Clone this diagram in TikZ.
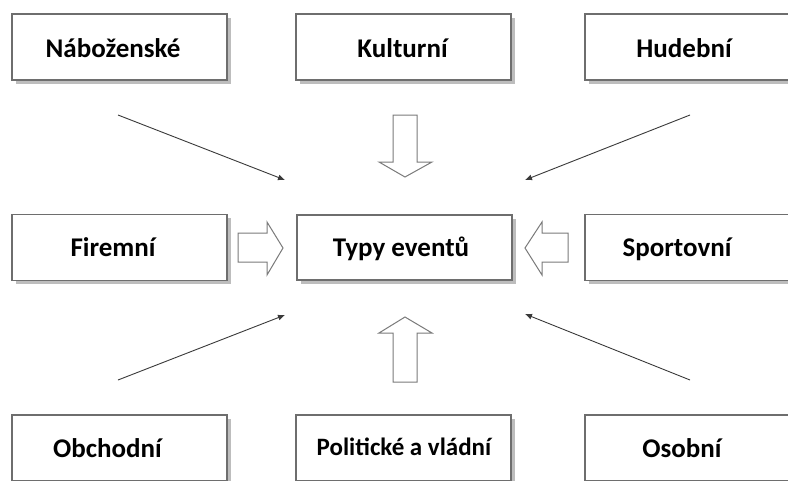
\documentclass[tikz,border=0pt]{standalone}
\usepackage{fontspec}
\setmainfont{Carlito}
\usetikzlibrary{shadows,arrows.meta}
\definecolor{boxline}{HTML}{6E6E6E}
\definecolor{shade}{HTML}{BDBDBD}
\definecolor{hollow}{HTML}{7A7A7A}
\definecolor{diag}{HTML}{3A3A3A}
\tikzset{
  box/.style={draw=boxline, line width=1.1pt, fill=white, minimum width=215pt, minimum height=66pt, inner sep=0pt,
    drop shadow={shadow xshift=3.5pt, shadow yshift=-3.5pt, fill=shade, opacity=1}},
  lbl/.style={font=\fontsize{27}{30}\selectfont\bfseries, text=black, inner sep=0pt, anchor=base},
  smalllbl/.style={font=\fontsize{25}{28}\selectfont\bfseries, text=black, inner sep=0pt, anchor=base},
  hollowarrow/.style={draw=hollow, line width=1pt, fill=white, line join=miter},
  thinarrow/.style={draw=diag, line width=0.9pt, -{Latex[length=7pt,width=6pt]}}
}
\begin{document}
\begin{tikzpicture}[x=1pt,y=-1pt]
\useasboundingbox (0,0) rectangle (788,480);
\clip (0,0) rectangle (788,480);
\fill[white] (0,0) rectangle (788,480);
% boxes
\node[box] (nab) at (119.5,47) {};
\node[box] (kul) at (403.5,47) {};
\node[box] (hud) at (692.5,47) {};
\node[box] (fir) at (119.5,247.5) {};
\node[box, minimum height=65pt] (typ) at (404.5,247.5) {};
\node[box] (spo) at (692.5,247.5) {};
\node[box] (obc) at (119.5,448) {};
\node[box] (pol) at (403.5,448) {};
\node[box] (oso) at (692.5,448) {};
% texts
\node[lbl] (nabT) at (113,57) {Náboženské};
\node[lbl] (kulT) at (402.5,57) {Kulturní};
\node[lbl] (hudT) at (684,57) {Hudební};
\node[lbl] (firT) at (113,256) {Firemní};
\node[lbl] (typT) at (401,256) {Typy eventů};
\node[lbl] (spoT) at (677,256) {Sportovní};
\node[lbl] (obcT) at (107.5,457) {Obchodní};
\node[smalllbl] (polT) at (404,455) {Politické a vládní};
\node[lbl] (osoT) at (682,457) {Osobní};
% hollow block arrows
\draw[hollowarrow] (393,115) -- (417,115) -- (417,162) -- (432,162) -- (405,177) -- (379,162) -- (393,162) -- cycle;
\draw[hollowarrow] (393,382) -- (417,382) -- (417,333) -- (432,333) -- (405,317) -- (379,333) -- (393,333) -- cycle;
\draw[hollowarrow] (238,233) -- (267,233) -- (267,222) -- (283,248) -- (267,275) -- (267,262) -- (238,262) -- cycle;
\draw[hollowarrow] (568,233) -- (542,233) -- (542,222) -- (525,248) -- (542,275) -- (542,262) -- (568,262) -- cycle;
% diagonal arrows
\coordinate (tlA) at (118,115);
\coordinate (tlB) at (285,180);
\coordinate (trA) at (690,115);
\coordinate (trB) at (525,180);
\coordinate (blA) at (118,380);
\coordinate (blB) at (285,315);
\coordinate (brA) at (690,380);
\coordinate (brB) at (525,314);
\draw[thinarrow] (tlA) -- (tlB);
\draw[thinarrow] (trA) -- (trB);
\draw[thinarrow] (blA) -- (blB);
\draw[thinarrow] (brA) -- (brB);
\end{tikzpicture}
\end{document}
